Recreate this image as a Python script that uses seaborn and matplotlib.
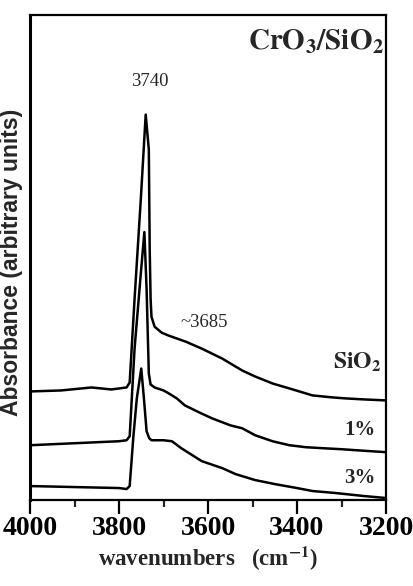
import numpy as np
import pandas as pd
import matplotlib
matplotlib.use("Agg")
import matplotlib.pyplot as plt
from matplotlib.ticker import MultipleLocator
import seaborn as sns

# ---- data ----
wn_sio2 = [4000, 3930, 3862, 3817, 3783, 3776, 3765, 3751, 3740, 3733, 3731, 3729, 3727,
           3720, 3704, 3688, 3650, 3614, 3568, 3523, 3494, 3455, 3417, 3365, 3320, 3290, 3250, 3200]
abs_sio2 = [1.07, 1.08, 1.11, 1.09, 1.11, 1.16, 2.00, 3.00, 3.85, 3.50, 2.50, 2.00, 1.82,
            1.72, 1.66, 1.63, 1.57, 1.50, 1.40, 1.28, 1.22, 1.15, 1.10, 1.03, 1.01, 1.00, 0.99, 0.98]

wn_1 = [4000, 3900, 3800, 3783, 3776, 3765, 3752, 3743, 3738, 3733, 3729, 3720, 3700, 3688,
        3670, 3652, 3620, 3591, 3550, 3523, 3494, 3455, 3417, 3380, 3342, 3300, 3268, 3200]
abs_1 = [0.53, 0.55, 0.57, 0.58, 0.62, 1.50, 2.20, 2.67, 2.10, 1.25, 1.14, 1.11, 1.08, 1.05,
         1.00, 0.93, 0.86, 0.80, 0.73, 0.70, 0.63, 0.57, 0.53, 0.51, 0.50, 0.49, 0.48, 0.46]

wn_3 = [4000, 3900, 3800, 3783, 3776, 3768, 3760, 3750, 3744, 3738, 3732, 3727, 3700, 3681,
        3660, 3614, 3568, 3538, 3494, 3450, 3400, 3365, 3313, 3250, 3200]
abs_3 = [0.12, 0.11, 0.10, 0.09, 0.12, 0.60, 1.00, 1.30, 1.00, 0.67, 0.60, 0.58, 0.58, 0.57,
         0.50, 0.37, 0.30, 0.24, 0.18, 0.14, 0.10, 0.07, 0.05, 0.02, 0.00]

series_names = ["SiO2", "1%", "3%"]
xticks = [4000, 3800, 3600, 3400, 3200]

df = pd.concat([
    pd.DataFrame({"wn": wn_sio2, "A": abs_sio2, "sample": series_names[0]}),
    pd.DataFrame({"wn": wn_1, "A": abs_1, "sample": series_names[1]}),
    pd.DataFrame({"wn": wn_3, "A": abs_3, "sample": series_names[2]}),
])

sns.set_theme(style="white")
plt.rcParams["font.family"] = ["Liberation Serif", "DejaVu Serif"]
plt.rcParams["mathtext.fontset"] = "stix"

fig = plt.figure(figsize=(4.14, 5.86), dpi=100)
ax = fig.add_axes([30 / 414, 1 - 500 / 586, (386 - 30) / 414, (500 - 15) / 586])

sns.lineplot(data=df, x="wn", y="A", hue="sample", units="sample", estimator=None,
             palette={n: "black" for n in series_names}, linewidth=1.8,
             legend=False, ax=ax, sort=True)

ax.set_xlim(4000, 3200)
ax.set_ylim(-0.02, 4.85)
ax.set_xticks(xticks)
ax.set_xticklabels([str(t) for t in xticks], fontweight="bold", fontsize=20)
ax.xaxis.set_minor_locator(MultipleLocator(100))
ax.tick_params(axis="x", which="major", direction="out", length=10, width=1.6,
               bottom=True, pad=1.5, colors="black")
ax.tick_params(axis="x", which="minor", direction="out", length=5, width=1.6, bottom=True)
ax.set_yticks([])

for sp in ax.spines.values():
    sp.set_color("black")
    sp.set_linewidth(1.6)
ax.spines["left"].set_linewidth(2.2)

ax.set_xlabel(r"wavenumbers   (cm$^{\mathbf{-1}}$)", fontweight="bold", fontsize=16.5,
              labelpad=3)
ax.set_ylabel("Absorbance (arbitrary units)", fontweight="bold", fontsize=16.5,
              family=["Liberation Sans", "DejaVu Sans"])
ax.yaxis.set_label_coords(-0.02, 0.49)

ax.text(3205, 4.58, r"$\mathbf{CrO_3/SiO_2}$", ha="right", va="center", fontsize=21)
ax.text(3731, 4.18, "3740", ha="center", va="center", fontsize=13.5)
ax.text(3609, 1.76, "~3685", ha="center", va="center", fontsize=13.5)
ax.text(3210, 1.36, r"$\mathbf{SiO_2}$", ha="right", va="center", fontsize=17)
ax.text(3224, 0.68, "1%", ha="right", va="center", fontsize=15, fontweight="bold")
ax.text(3224, 0.20, "3%", ha="right", va="center", fontsize=15, fontweight="bold")

fig.savefig("out.png", dpi=100)
